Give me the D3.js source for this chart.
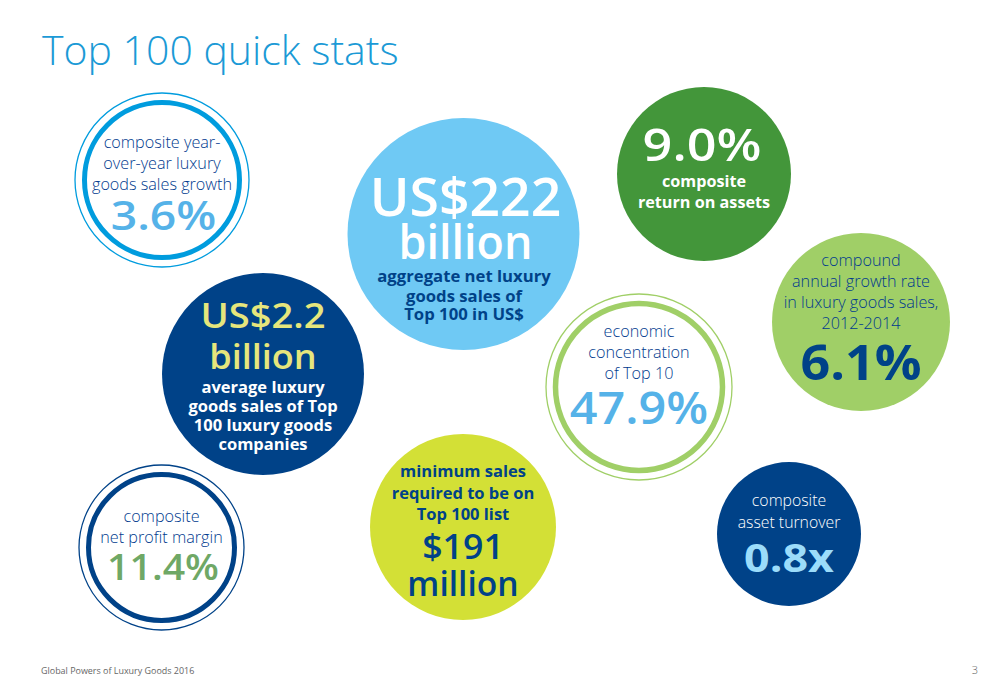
<!DOCTYPE html>
<html>
<head>
<meta charset="utf-8">
<script src="https://cdn.jsdelivr.net/npm/d3@7"></script>
<style>
  html, body { margin: 0; padding: 0; background: #fff; }
  text { font-family: "Open Sans", "Noto Sans", sans-serif; text-anchor: middle; }
</style>
</head>
<body>
<div id="chart"></div>
<script>
var statNames = ["growth", "sales", "roa", "cagr", "concentration", "average", "margin", "minimum", "turnover"];

var statFigures = [
  ["3.6%"],
  ["US$222", "billion"],
  ["9.0%"],
  ["6.1%"],
  ["47.9%"],
  ["US$2.2", "billion"],
  ["11.4%"],
  ["$191", "million"],
  ["0.8x"]
];

var statCaptions = [
  ["composite year-", "over-year luxury", "goods sales growth"],
  ["aggregate net luxury", "goods sales of", "Top 100 in US$"],
  ["composite", "return on assets"],
  ["compound", "annual growth rate", "in luxury goods sales,", "2012-2014"],
  ["economic", "concentration", "of Top 10"],
  ["average luxury", "goods sales of Top", "100 luxury goods", "companies"],
  ["composite", "net profit margin"],
  ["minimum sales", "required to be on", "Top 100 list"],
  ["composite", "asset turnover"]
];

var titleText = "Top 100 quick stats";
var footerText = "Global Powers of Luxury Goods 2016";
var pageNumber = "3";

// layout of each bubble, by stat name
var layout = {
  growth:        { cx: 162, cy: 180, r: 87,  ring: "#009cde", thick: 77.5, sw: 5 },
  sales:         { cx: 463.5, cy: 234, r: 116, fill: "#6fc9f4" },
  roa:           { cx: 704, cy: 174, r: 87,  fill: "#43963a" },
  cagr:          { cx: 861, cy: 322, r: 89,  fill: "#a0cf67" },
  concentration: { cx: 639, cy: 387, r: 93,  ring: "#a0cf67", thick: 83.5, sw: 5.5 },
  average:       { cx: 263, cy: 374, r: 101, fill: "#004288" },
  margin:        { cx: 161.5, cy: 547.5, r: 82.5, ring: "#004288", thick: 73, sw: 5 },
  minimum:       { cx: 463, cy: 527, r: 93,  fill: "#d3e036" },
  turnover:      { cx: 789, cy: 534, r: 72,  fill: "#004288" }
};

// baselines and type for each text line, sx widens the glyphs
var typeset = {
  growth:        { fig: { y: [230], size: 40, sx: [1.157], dx: 1.5, color: "#55b2e8", weight: 600 }, cap: { y: [148, 169, 190], size: 16.2, color: "#003a8e", weight: 300 } },
  sales:         { fig: { y: [216, 259], size: [52, 47], sx: [1.03, 0.955], dx: 2, color: "#fff", weight: 600 }, cap: { y: [282, 302, 320], size: 16.7, dx: 0.5, color: "#004288", weight: 700 } },
  roa:           { fig: { y: [161], size: 44.5, sx: [1.17], dx: -2, color: "#fff", weight: 600 }, cap: { y: [187, 208], size: 16.2, color: "#fff", weight: 700 } },
  cagr:          { fig: { y: [380], size: 48, sx: [1.083], color: "#004288", weight: 700 }, cap: { y: [266, 287, 308, 329], size: 16.2, color: "#003a8e", weight: 300 } },
  concentration: { fig: { y: [424], size: 46, sx: [1.054], color: "#55b2e8", weight: 600 }, cap: { y: [337, 358, 379], size: 16.2, color: "#003a8e", weight: 300 } },
  average:       { fig: { y: [328, 369], size: 35, sx: [1.09, 1.03], color: "#e6e67c", weight: 600 }, cap: { y: [393, 412, 431, 450], size: 16.5, color: "#fff", weight: 700 } },
  margin:        { fig: { y: [580], size: 36, sx: [1.09], dx: 1.5, color: "#6fa866", weight: 600 }, cap: { y: [522, 543], size: 16.2, color: "#003a8e", weight: 300 } },
  minimum:       { fig: { y: [559, 596], size: 35, sx: [1.02, 0.96], color: "#004288", weight: 600 }, cap: { y: [477, 499, 520], size: 16.5, color: "#004288", weight: 700 } },
  turnover:      { fig: { y: [572], size: 40, sx: [1.12], color: "#9bdcfa", weight: 700 }, cap: { y: [506, 528], size: 15.8, color: "#fff", weight: 300 } }
};

var svg = d3.select("#chart").append("svg")
  .attr("width", 1000)
  .attr("height", 684)
  .style("display", "block");

svg.append("text")
  .attr("x", 42)
  .attr("y", 65)
  .style("text-anchor", "start")
  .style("font-size", "41px")
  .style("font-weight", 300)
  .attr("fill", "#1b9ad6")
  .text(titleText);

var bubbles = svg.selectAll("g.bubble")
  .data(statNames)
  .enter()
  .append("g")
  .attr("class", "bubble");

bubbles.append("circle")
  .attr("cx", function(d) { return layout[d].cx; })
  .attr("cy", function(d) { return layout[d].cy; })
  .attr("r", function(d) { return layout[d].r; })
  .attr("fill", function(d) { return layout[d].fill || "#fff"; })
  .attr("stroke", function(d) { return layout[d].ring || "none"; })
  .attr("stroke-width", 1.3);

bubbles.filter(function(d) { return layout[d].ring; })
  .append("circle")
  .attr("cx", function(d) { return layout[d].cx; })
  .attr("cy", function(d) { return layout[d].cy; })
  .attr("r", function(d) { return layout[d].thick; })
  .attr("fill", "none")
  .attr("stroke", function(d) { return layout[d].ring; })
  .attr("stroke-width", function(d) { return layout[d].sw; });

function addLines(sel, lines, key) {
  sel.selectAll("text." + key)
    .data(function(d, i) {
      return lines[i].map(function(t, j) {
        var ts = typeset[d][key];
        return {
          name: d,
          text: t,
          y: ts.y[j],
          size: Array.isArray(ts.size) ? ts.size[j] : ts.size,
          sx: ts.sx ? ts.sx[j] : 1,
          dx: ts.dx || 0
        };
      });
    })
    .enter()
    .append("text")
    .attr("class", key)
    .attr("transform", function(d) {
      return "translate(" + (layout[d.name].cx + d.dx) + "," + d.y + ") scale(" + d.sx + ",1)";
    })
    .attr("fill", function(d) { return typeset[d.name][key].color; })
    .style("font-size", function(d) { return d.size + "px"; })
    .style("font-weight", function(d) { return typeset[d.name][key].weight; })
    .text(function(d) { return d.text; });
}

addLines(bubbles, statFigures, "fig");
addLines(bubbles, statCaptions, "cap");

svg.append("text")
  .attr("x", 41)
  .attr("y", 674)
  .style("text-anchor", "start")
  .style("font-size", "8.95px")
  .style("font-weight", 400)
  .attr("fill", "#666")
  .text(footerText);

svg.append("text")
  .attr("x", 975)
  .attr("y", 674)
  .style("font-size", "11px")
  .style("font-weight", 300)
  .attr("fill", "#666")
  .text(pageNumber);
</script>
</body>
</html>
